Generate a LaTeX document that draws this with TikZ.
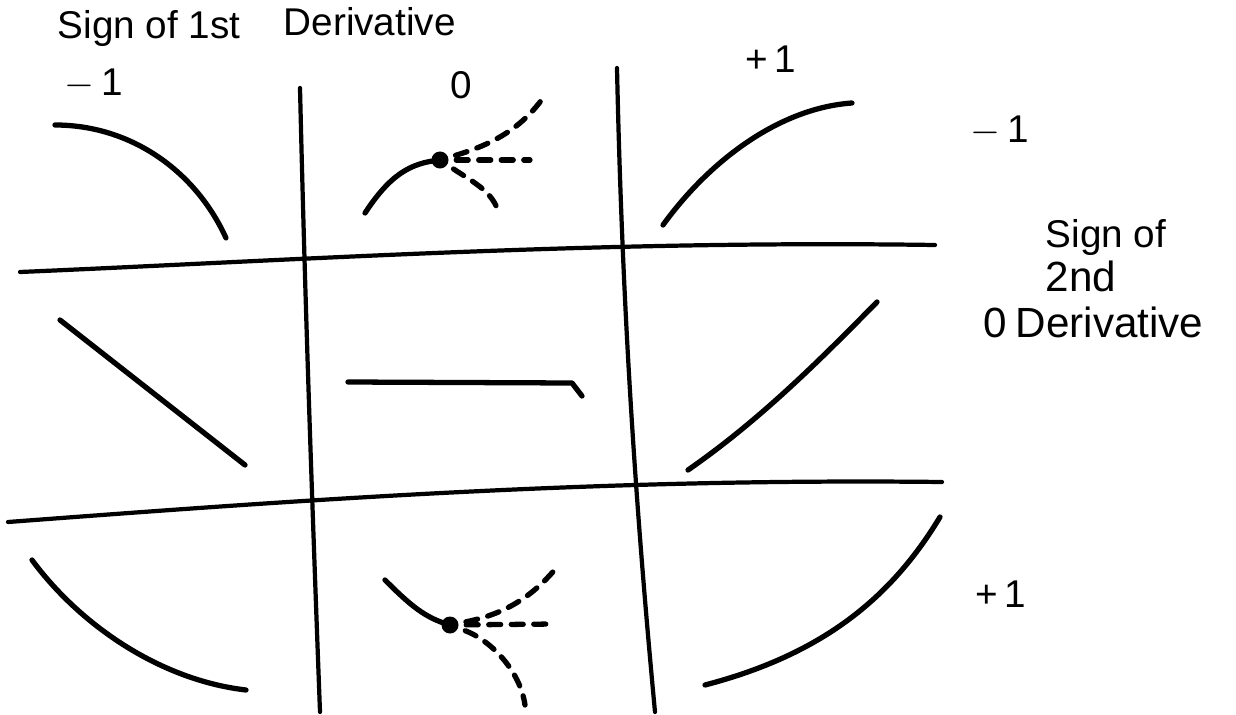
\documentclass[tikz,border=0pt]{standalone}
\usepackage{fontspec}
\setmainfont{Liberation Sans}
\usetikzlibrary{arrows.meta, positioning}

\begin{document}
\begin{tikzpicture}[
        x=0.01cm, y=-0.01cm,
        every node/.style={inner sep=0pt, font=\large},
        gridline/.style={line width=1.2pt, line cap=round},
        curve/.style={line width=1.5pt, line cap=round, line join=round},
        guess/.style={line width=1.5pt, line cap=round, shorten <=2pt, dash pattern=on 3.4pt off 3pt}
    ]

    \tikzset{
    dot/.style={circle, fill, minimum size=0.17cm},
    sign/.style={anchor=base west, font=\fontsize{11}{13}\selectfont}
}

    \useasboundingbox (0,0) rectangle (1236,715);

    % headings
    \node[sign] (first) at (57,38) {Sign of 1st};
    \node[sign] (deriv) at (283,35) {Derivative};
    \node[sign] (cm) at (64,95) {$-$\,1};
    \node[sign] (cz) at (450,98) {0};
    \node[sign] (cp) at (745,72) {+\,1};

    \node[sign] (rm) at (970,142) {$-$\,1};
    \node[sign] (second) at (1045,247) {Sign of};
    \node[sign, font=\large] (nd) at (1045,291) {2nd};
    \node[sign, font=\large] (rz) at (983,337) {0};
    \node[sign, font=\large] (rderiv) at (1015,337) {Derivative};
    \node[sign] (rp) at (975,607) {+\,1};

    % grid
    \draw[gridline] (300,88) .. controls (305,300) and (312,500) .. (320,712);
    \draw[gridline] (617,68) .. controls (622,300) and (635,500) .. (655,712);
    \draw[gridline] (20,272) .. controls (300,260) and (600,240) .. (935,245);
    \draw[gridline] (8,522) .. controls (300,500) and (600,478) .. (942,482);

    % second derivative -1
    \draw[curve] (55,125) .. controls (130,125) and (195,170) .. (226,238);
    \node[dot] (top) at (440,160) {};
    \draw[curve] (365,213) .. controls (390,175) and (410,163) .. (top.center);
    \draw[guess] (top) .. controls (490,145) and (520,130) .. (543,98);
    \draw[guess] (top) -- (530,160);
    \draw[guess] (top) .. controls (470,180) and (490,190) .. (497,208);
    \draw[curve] (663,225) .. controls (710,160) and (780,108) .. (852,103);

    % second derivative 0
    \draw[curve] (60,320) -- (245,465);
    \draw[curve] (348,382) -- (572,383) -- (582,396);
    \draw[curve] (688,470) .. controls (760,420) and (820,360) .. (877,302);

    % second derivative +1
    \draw[curve] (32,560) .. controls (80,625) and (160,680) .. (246,690);
    \node[dot] (bot) at (450,625) {};
    \draw[curve] (385,580) .. controls (410,605) and (425,618) .. (bot.center);
    \draw[guess] (bot) .. controls (500,615) and (530,600) .. (557,567);
    \draw[guess] (bot) -- (555,624);
    \draw[guess] (bot) .. controls (490,640) and (520,670) .. (525,705);
    \draw[curve] (705,685) .. controls (820,655) and (890,600) .. (940,517);
    \end{tikzpicture}
\end{document}
